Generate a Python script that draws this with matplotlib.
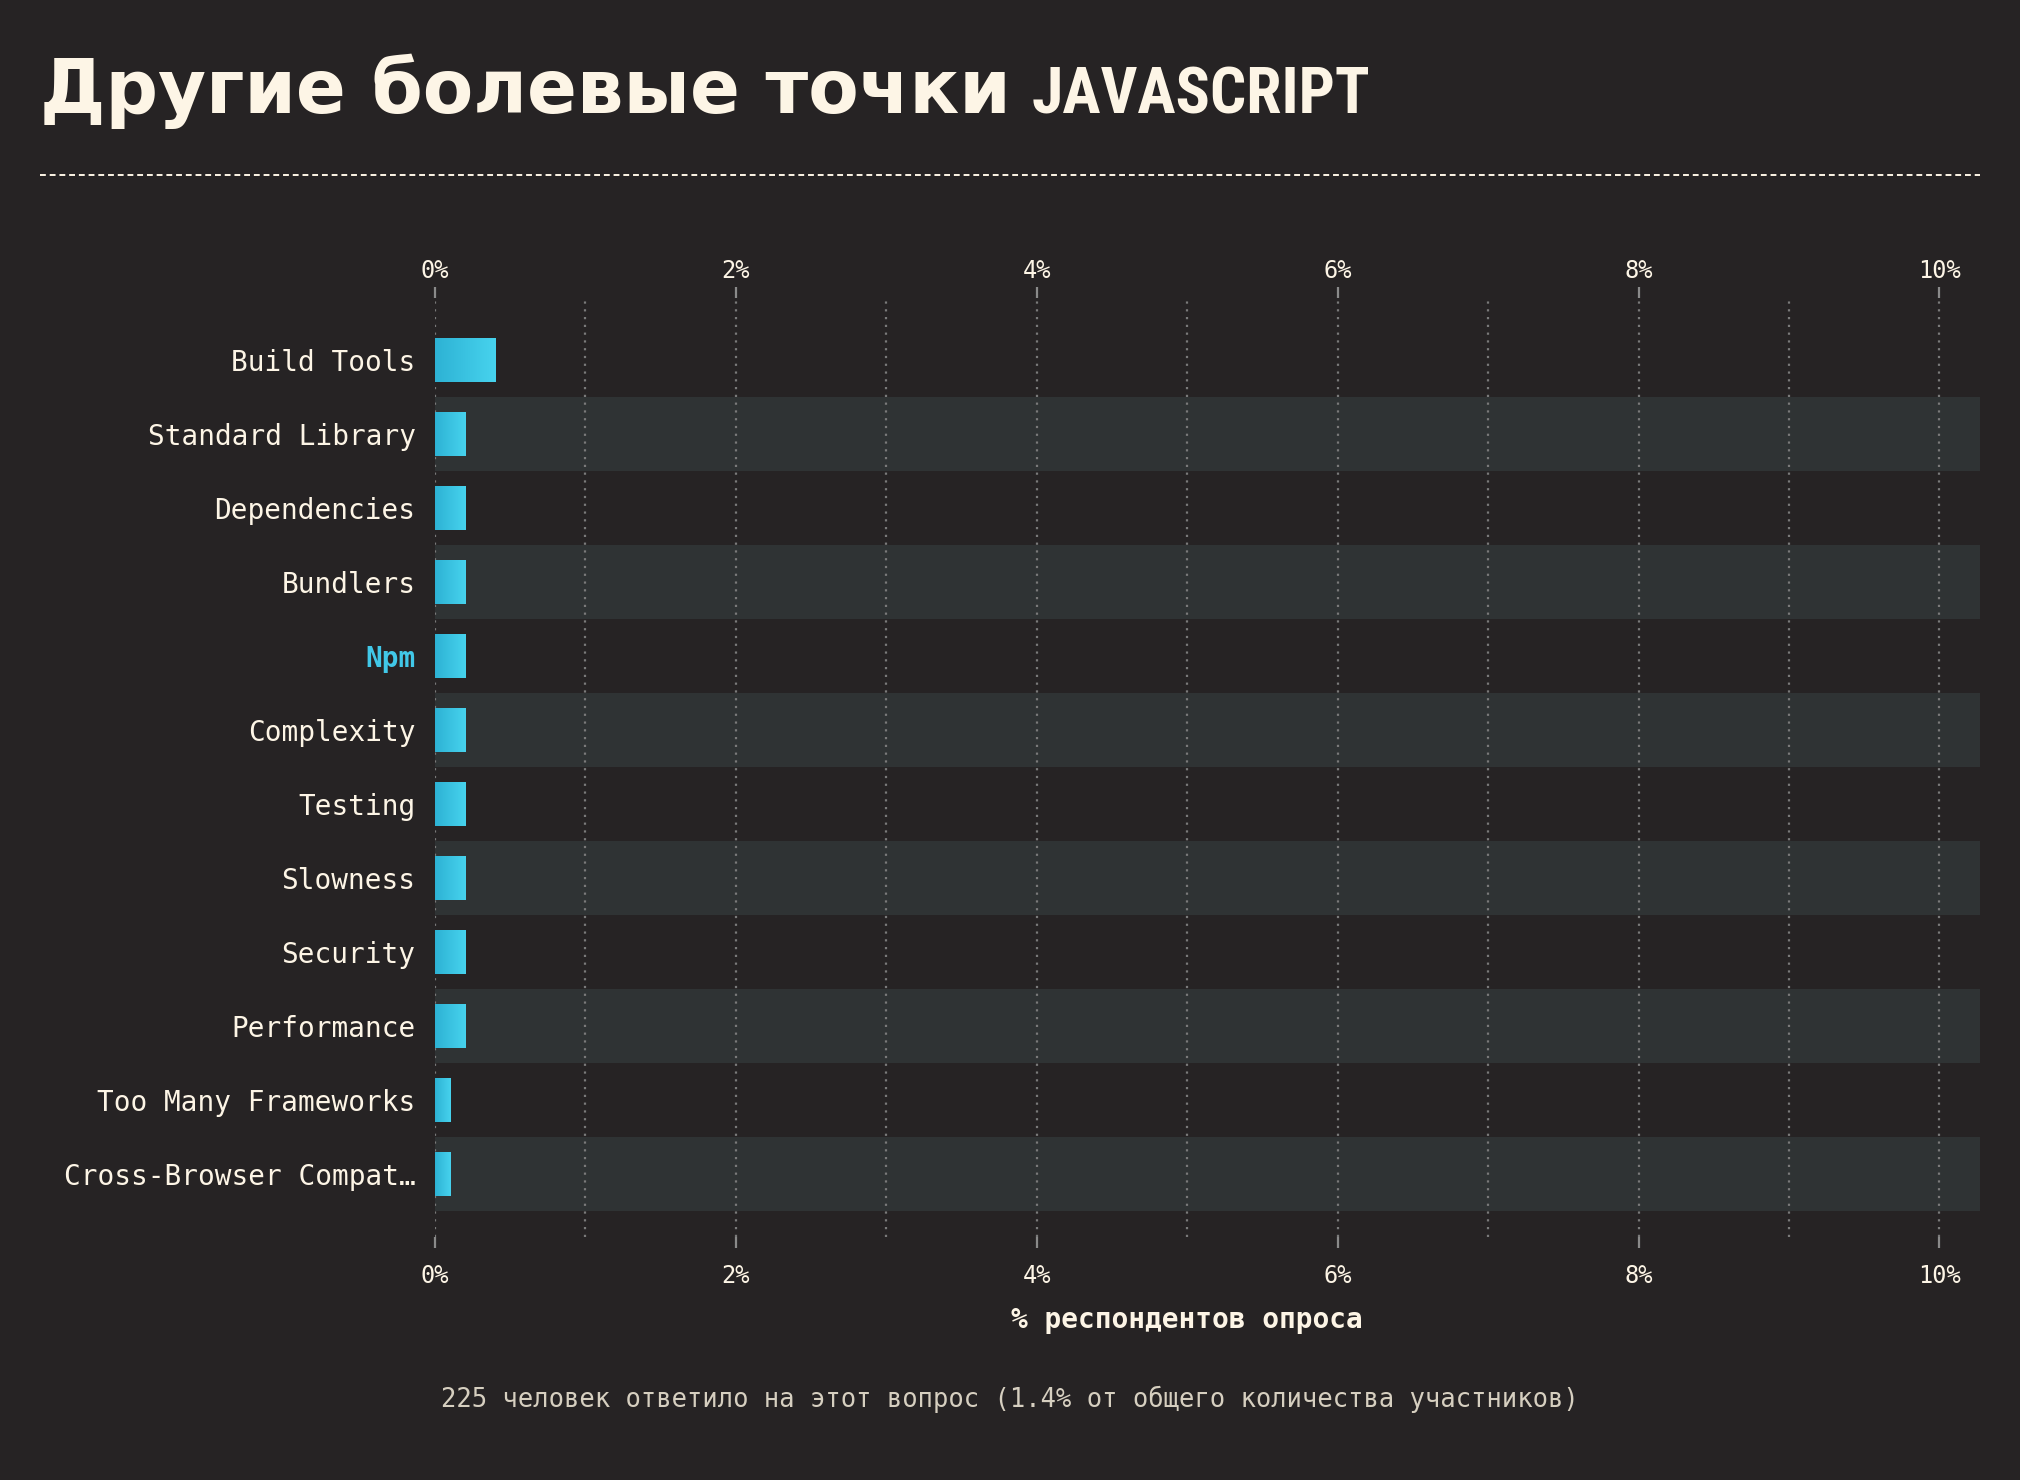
import matplotlib
matplotlib.use("Agg")
import matplotlib.pyplot as plt
import numpy as np
from matplotlib import font_manager
from matplotlib.colors import LinearSegmentedColormap
from matplotlib.lines import Line2D
from matplotlib.transforms import ScaledTranslation

categories = ["Build Tools", "Standard Library", "Dependencies", "Bundlers", "Npm",
              "Complexity", "Testing", "Slowness", "Security", "Performance",
              "Too Many Frameworks", "Cross-Browser Compat\u2026"]
values = [0.4, 0.2, 0.2, 0.2, 0.2, 0.2, 0.2, 0.2, 0.2, 0.2, 0.1, 0.1]
highlight = "Npm"
xticks = [0, 2, 4, 6, 8, 10]
xtick_labels = ["0%", "2%", "4%", "6%", "8%", "10%"]
minor_ticks = [1, 3, 5, 7, 9]

title_main = "Другие болевые точки"
title_js = "JAVASCRIPT"
xlabel = "% респондентов опроса"
footer = "225 человек ответило на этот вопрос (1.4% от общего количества участников)"

bg = "#262324"
band = "#2f3334"
cream = "#fdf5e6"
cyan = "#41c8e8"
grid_c = "#7a7a7a"
mono = "DejaVu Sans Mono"

names = {f.name for f in font_manager.fontManager.ttflist}
narrow = "DejaVu Sans"
for n in ["Liberation Sans Narrow", "Roboto Condensed", "DejaVu Sans Condensed"]:
    if n in names:
        narrow = n
        break

fig = plt.figure(figsize=(20.2, 14.8), dpi=100, facecolor=bg)
ax = fig.add_axes([435/2020, 1-1237/1480, 1545/2020, 939/1480])
ax.set_facecolor(bg)

y = np.arange(len(categories))
for i in y:
    if i % 2 == 1:
        ax.axhspan(i-0.5, i+0.5, color=band, zorder=0.1, lw=0)

# bars with a left->right gradient
cmap = LinearSegmentedColormap.from_list("g", ["#2db2d4", "#47d3ee"])
grad = np.linspace(0, 1, 256).reshape(1, -1)
bars = ax.barh(y, values, height=0.6, color="#3cc4e3", zorder=2)
for b in bars:
    x0, y0 = b.get_x(), b.get_y()
    im = ax.imshow(grad, extent=[x0, x0+b.get_width(), y0+b.get_height(), y0],
                   cmap=cmap, aspect="auto", zorder=2.1)
    im.set_clip_path(b)

ax.set_xlim(0, 10.27)
ax.set_ylim(len(categories)-0.5+0.35, -0.5-0.34)

ax.set_xticks(xticks)
ax.set_xticklabels(xtick_labels)
ax.set_xticks(minor_ticks, minor=True)
ax.set_axisbelow(True)
ax.grid(which="both", axis="x", linestyle=(0, (1, 2.5)), color=grid_c, lw=1.6)
ax.tick_params(axis="x", which="major", top=True, labeltop=True, length=8, width=1.6,
               color="#8a8a8a", pad=7, labelsize=17, labelcolor=cream)
ax.tick_params(axis="x", which="minor", length=0, top=False, bottom=False)
off = ScaledTranslation(0, -0.06, fig.dpi_scale_trans)
for t in ax.xaxis.get_major_ticks():
    for lab in (t.label1, t.label2):
        lab.set_fontfamily(mono)
        lab.set_transform(lab.get_transform() + off)

ax.set_yticks(y)
ax.set_yticklabels(categories)
ax.tick_params(axis="y", length=0, pad=14, labelsize=20, labelcolor=cream)
for lab in ax.get_yticklabels():
    lab.set_fontfamily(mono)
    if lab.get_text() == highlight:
        lab.set_color(cyan)
        lab.set_fontweight("bold")

for s in ax.spines.values():
    s.set_visible(False)

fig.text(1187/2020, 1-1320/1480, xlabel, ha="center", va="center", fontsize=20,
         fontweight="bold", color=cream, family=mono)
fig.text(0.5, 1-1399/1480, footer, ha="center", va="center", fontsize=18.4,
         color="#d6cfc0", family=mono)

t1 = fig.text(40/2020, 1-113/1480, title_main, ha="left", va="baseline", fontsize=53,
              fontweight="bold", color=cream, family="DejaVu Sans")
fig.canvas.draw()
ext = t1.get_window_extent()
fig.text((ext.x1+21)/2020, 1-113/1480, title_js, ha="left", va="baseline", fontsize=46,
         fontweight="bold", color=cream, family=narrow, fontstretch="condensed")

fig.add_artist(Line2D([40/2020, 1980/2020], [1-175/1480]*2, transform=fig.transFigure,
                      color=cream, lw=1.4, linestyle=(0, (3, 2))))

fig.savefig("out.png", dpi=100, facecolor=bg)
